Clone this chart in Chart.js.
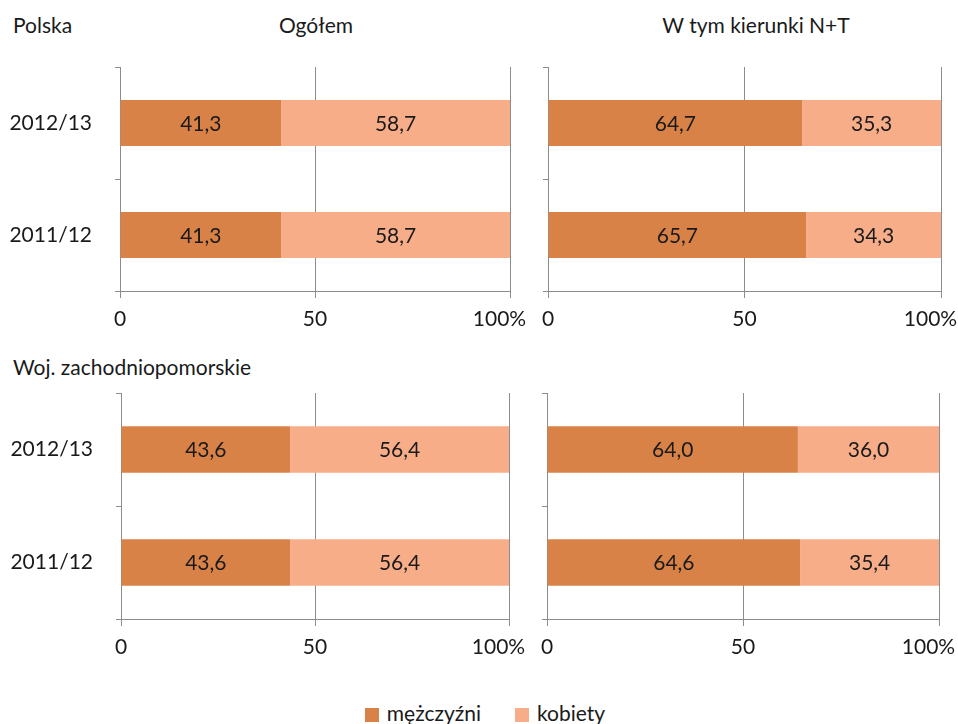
<!DOCTYPE html>
<html lang="pl">
<head>
<meta charset="utf-8">
<script src="https://cdn.jsdelivr.net/npm/chart.js@4"></script>
<style>
  html, body { margin: 0; padding: 0; background: #fff; }
  body { width: 958px; height: 724px; position: relative; overflow: hidden;
         font-family: Lato, "Open Sans", sans-serif; color: #1a1a1a; }
  .panel { position: absolute; }
  .txt { position: absolute; font-size: 21px; line-height: 1; white-space: nowrap; }
  .legend { position: absolute; top: 702px; left: 6px; width: 958px; text-align: center;
            font-size: 21px; line-height: 21px; }
  .legend span.item { display: inline-block; margin: 0 17px; }
  .legend i { display: inline-block; width: 14px; height: 14px; margin-right: 8px;
              vertical-align: -1px; }
</style>
</head>
<body>
<div class="txt" style="left:13px; top:14px;">Polska</div>
<div class="txt" style="left:316px; top:14px; transform:translateX(-50%);">Ogółem</div>
<div class="txt" style="left:756px; top:14px; transform:translateX(-50%);">W tym kierunki N+T</div>
<div class="txt" style="left:13px; top:356px;">Woj. zachodniopomorskie</div>

<div class="panel" style="left:0; top:40px; width:540px; height:300px;"><canvas id="c1"></canvas></div>
<div class="panel" style="left:540px; top:40px; width:418px; height:300px;"><canvas id="c2"></canvas></div>
<div class="panel" style="left:0; top:370px; width:540px; height:300px;"><canvas id="c3"></canvas></div>
<div class="panel" style="left:540px; top:370px; width:418px; height:300px;"><canvas id="c4"></canvas></div>

<div class="legend" id="legend"></div>

<script>
// Academic years (top to bottom)
const years = ['2012/13', '2011/12'];
const seriesNames = ['mężczyźni', 'kobiety'];
const xTicks = ['0', '50', '100%'];

// Share of men / women, in %
const polskaOgolemMen   = [41.3, 41.3];
const polskaOgolemWomen = [58.7, 58.7];
const polskaNTMen       = [64.7, 65.7];
const polskaNTWomen     = [35.3, 34.3];
const zachOgolemMen     = [43.6, 43.6];
const zachOgolemWomen   = [56.4, 56.4];
const zachNTMen         = [64.0, 64.6];
const zachNTWomen       = [36.0, 35.4];

const colors = ['#d98248', '#f8ad89'];
const gridColor = '#8c8c8c';
const FONT = { family: 'Lato, "Open Sans", sans-serif', size: 21 };

// Writes each segment's value in the middle of its bar
const valueLabels = {
  id: 'valueLabels',
  afterDatasetsDraw(chart) {
    const ctx = chart.ctx;
    ctx.save();
    ctx.font = FONT.size + 'px ' + FONT.family;
    ctx.fillStyle = '#1a1a1a';
    ctx.textAlign = 'center';
    ctx.textBaseline = 'middle';
    chart.data.datasets.forEach((ds, di) => {
      chart.getDatasetMeta(di).data.forEach((bar, i) => {
        const v = ds.data[i];
        ctx.fillText(v.toFixed(1).replace('.', ','), (bar.x + bar.base) / 2, bar.y + 1);
      });
    });
    ctx.restore();
  }
};

// Fixed axis sizes so the plot areas line up across the panels
function noPadding(scale) {
  scale.paddingLeft = 0; scale.paddingRight = 0;
  scale.paddingTop = 0; scale.paddingBottom = 0;
}

function makeChart(id, men, women, opts) {
  return new Chart(document.getElementById(id), {
    type: 'bar',
    data: {
      labels: years,
      datasets: [
        { label: seriesNames[0], data: men, backgroundColor: colors[0] },
        { label: seriesNames[1], data: women, backgroundColor: colors[1] }
      ]
    },
    options: {
      indexAxis: 'y',
      responsive: true,
      maintainAspectRatio: false,
      animation: false,
      events: [],
      datasets: { bar: { categoryPercentage: 1, barPercentage: 0.41 } },
      layout: { autoPadding: false, padding: { top: opts.top, right: opts.right, left: 0, bottom: 0 } },
      plugins: { legend: { display: false }, tooltip: { enabled: false } },
      scales: {
        x: {
          stacked: true,
          min: 0, max: 100,
          afterBuildTicks(scale) {
            scale.ticks = [0, 50, 100].map(v => ({ value: v }));
          },
          afterFit(scale) { scale.height = opts.xh; noPadding(scale); },
          border: { display: true, color: gridColor, width: 1 },
          grid: { color: gridColor, lineWidth: 1, drawTicks: true, tickLength: 7, tickColor: gridColor },
          ticks: {
            font: FONT, color: '#1a1a1a', padding: 9, maxRotation: 0, autoSkip: false,
            callback: (v, i) => i === 2 ? xTicks[i] + '\u2002\u2002' : xTicks[i]
          }
        },
        y: {
          stacked: true,
          afterFit(scale) { scale.width = opts.yw; noPadding(scale); },
          border: { display: true, color: gridColor, width: 1 },
          grid: { offset: true, drawOnChartArea: false, drawTicks: true, tickLength: 5, tickColor: gridColor },
          ticks: { display: opts.showY, font: FONT, color: '#1a1a1a', padding: 23 }
        }
      }
    },
    plugins: [valueLabels]
  });
}

makeChart('c1', polskaOgolemMen, polskaOgolemWomen, { top: 27, right: 30, xh: 49, yw: 120, showY: true });
makeChart('c2', polskaNTMen, polskaNTWomen, { top: 27, right: 17, xh: 49, yw: 8, showY: false });
makeChart('c3', zachOgolemMen, zachOgolemWomen, { top: 23, right: 31, xh: 51, yw: 121, showY: true });
makeChart('c4', zachNTMen, zachNTWomen, { top: 23, right: 19, xh: 51, yw: 7, showY: false });

// Legend built from the dataset names and colours
document.getElementById('legend').innerHTML = seriesNames.map((n, i) =>
  '<span class="item"><i style="background:' + colors[i] + '"></i>' + n + '</span>').join('');
</script>
</body>
</html>
